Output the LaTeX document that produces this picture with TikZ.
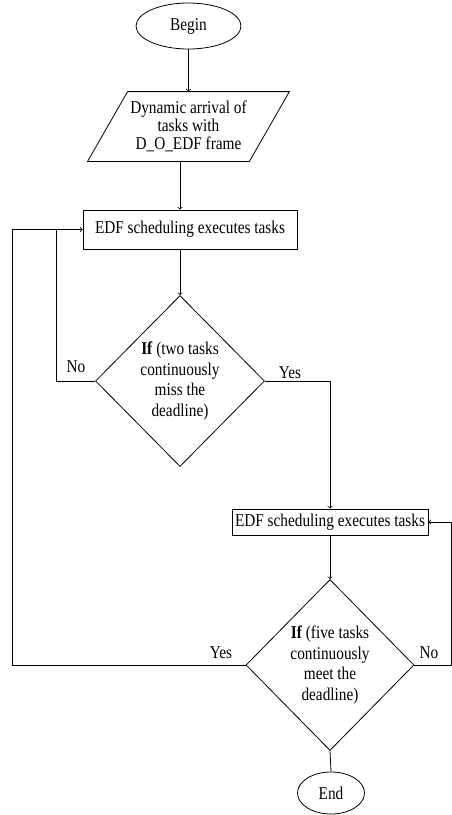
\documentclass[tikz,border=0pt]{standalone}
\usepackage{fontspec}
\setmainfont[FakeStretch=0.85]{Liberation Serif}
\usetikzlibrary{shapes.geometric,calc}

\begin{document}
\begin{tikzpicture}[x=1pt, y=-1pt, line width=0.8pt,
        every node/.style={font=\fontsize{18}{18}\selectfont},
        terminal/.style={draw, ellipse, inner sep=0pt},
        inputbox/.style={rectangle, minimum width=161pt, minimum height=69pt, inner sep=0pt, align=center},
        process/.style={draw, rectangle, inner sep=0pt},
        decision/.style={draw, diamond, inner sep=0pt, align=center,
            font=\fontsize{18}{20.5}\selectfont},
        label/.style={inner sep=0pt}]
            \useasboundingbox (0,0) rectangle (452,815);

            % shapes
            \node[terminal, minimum width=105pt, minimum height=46pt] (begin) at (188.5,26) {Begin};
            \node[inputbox] (input) at (188.5,126.5) {Dynamic arrival of\\tasks with\\D\_O\_EDF frame};
            \draw ($(input.north west)+(20,0)$) -- ($(input.north east)+(20,0)$)
                -- ($(input.south east)+(-20,0)$) -- ($(input.south west)+(-20,0)$) -- cycle;
            \node[process, minimum width=214pt, minimum height=39pt] (exec1) at (190,229.5) {EDF scheduling executes tasks};
            \node[decision, minimum width=169pt, minimum height=171pt] (dec1) at (180,381)
                {\textbf{If} (two tasks\\continuously\\miss the\\deadline)};
            \node[process, minimum width=196pt, minimum height=26pt] (exec2) at (330,522) {EDF scheduling executes tasks};
            \node[decision, minimum width=168pt, minimum height=171pt] (dec2) at (330,665)
                {\textbf{If} (five tasks\\continuously\\meet the\\deadline)};
            \node[terminal, minimum width=67pt, minimum height=42pt] (end) at (331,793) {End};

            % corner points of the loops
            \coordinate (loopN) at (56,229.5);
            \coordinate (loopL) at (12,229.5);
            \coordinate (loopR) at (451,522);

            % connectors
            \draw[->] (begin) -- (input);
            \draw[->] (input.south -| dec1.north) -- (exec1.north -| dec1.north);
            \draw[->] (exec1.south -| dec1.north) -- (dec1.north);
            \draw[->] (dec1.west) -| (loopN) -- (exec1.west);
            \draw[->] (dec1.east) -| (exec2.north);
            \draw[->] (exec2.south) -- (dec2.north);
            \draw (dec2.west) -| (loopL) -- (loopN);
            \draw[->] (dec2.east) -| (loopR) -- (exec2.east);
            \draw (dec2.south) -- (end.north);

            % labels
            \node[label] (no1) at (76,367) {No};
            \node[label] (yes1) at (290,373) {Yes};
            \node[label] (yes2) at (221,653) {Yes};
            \node[label] (no2) at (429,653) {No};
        \end{tikzpicture}
\end{document}
